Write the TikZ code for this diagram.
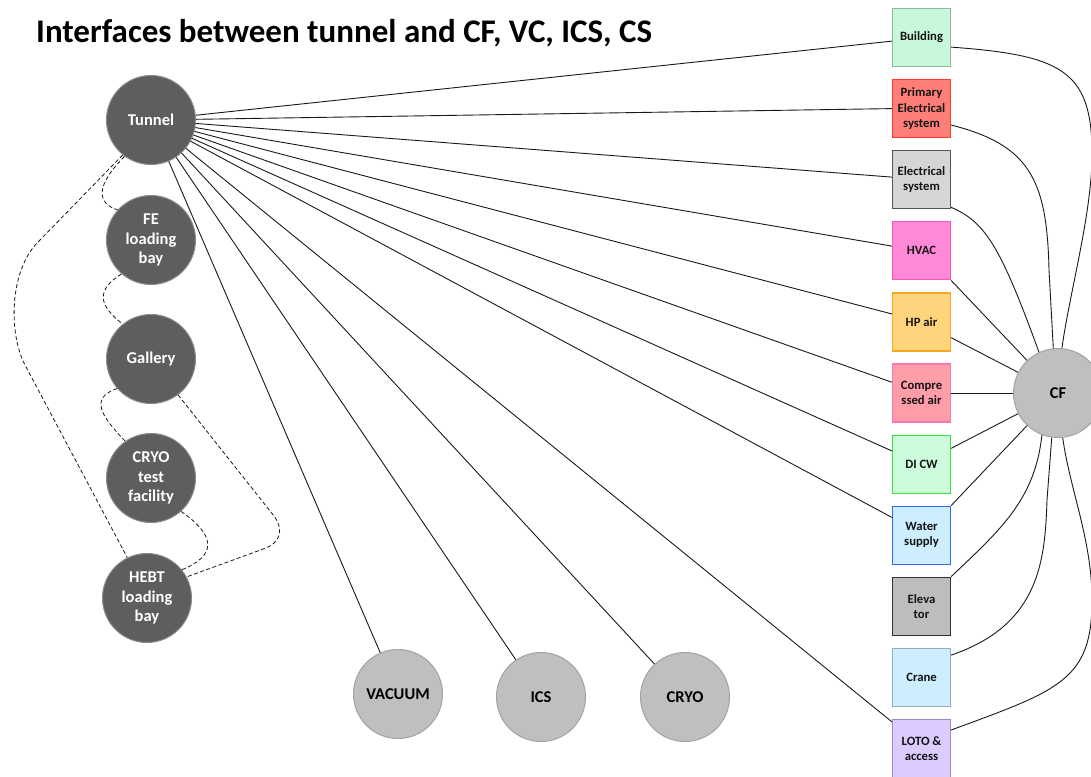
\documentclass[tikz,border=0pt]{standalone}
\usepackage{fontspec}
\setmainfont{Carlito}
\definecolor{darkgrey}{HTML}{5E5E5E}
\definecolor{rimdark}{HTML}{8A8A8A}
\definecolor{lightgrey}{HTML}{BFBFBF}
\definecolor{rimlight}{HTML}{A3A3A3}
% box fills and borders
\definecolor{bldF}{HTML}{C8F8DA}\definecolor{bldD}{HTML}{8DB89A}
\definecolor{priF}{HTML}{FF7F78}\definecolor{priD}{HTML}{FF3B30}
\definecolor{eleF}{HTML}{D6D6D6}\definecolor{eleD}{HTML}{555555}
\definecolor{hvacF}{HTML}{FF88D8}\definecolor{hvacD}{HTML}{FF55BB}
\definecolor{hpaF}{HTML}{FFD47A}\definecolor{hpaD}{HTML}{F5A623}
\definecolor{cmpF}{HTML}{FF9DA8}\definecolor{cmpD}{HTML}{FF74B0}
\definecolor{dicwF}{HTML}{CCFCDC}\definecolor{dicwD}{HTML}{3BE03B}
\definecolor{wsupF}{HTML}{CCEEFF}\definecolor{wsupD}{HTML}{3366FF}
\definecolor{elvF}{HTML}{BDBDBD}\definecolor{elvD}{HTML}{333333}
\definecolor{crnF}{HTML}{CCEEFF}\definecolor{crnD}{HTML}{8FAEC0}
\definecolor{lotoF}{HTML}{DCCBFF}\definecolor{lotoD}{HTML}{9A8CBE}
\begin{document}
\begin{tikzpicture}[x=1pt,y=-1pt,
  box/.style={draw, line width=1.2pt, minimum size=58pt, inner sep=1pt, align=center,
    font=\fontsize{12.7}{15.3}\selectfont\bfseries, text=black!92},
  hub/.style={circle, minimum size=89pt, inner sep=0pt, align=center, line width=1pt,
    font=\fontsize{16.5}{19.5}\selectfont\bfseries},
  dark/.style={hub, fill=darkgrey, draw=rimdark, text=white},
  light/.style={hub, fill=lightgrey, draw=rimlight, text=black},
  link/.style={line width=0.9pt, black!90},
  dlink/.style={line width=0.8pt, black!90, dash pattern=on 4pt off 2.5pt}
]
\useasboundingbox (0,0) rectangle (1091,776);
\clip (0,0) rectangle (1091,776);

% title
\node[anchor=base west, inner sep=0pt, font=\fontsize{33}{36}\selectfont\bfseries] (title) at (36,42)
  {Interfaces between tunnel and CF, VC, ICS, CS};

% site areas
\node[dark] (tun)  at (151,120) {Tunnel};
\node[dark] (fe)   at (151,240) {FE\\loading\\bay};
\node[dark] (gal)  at (151,359) {Gallery};
\node[dark] (cts)  at (151,478) {CRYO\\test\\facility};
\node[dark] (hebt) at (147,598) {HEBT\\loading\\bay};

% other systems
\node[light] (vac)  at (398,694) {VACUUM};
\node[light] (ics)  at (541,697) {ICS};
\node[light] (cryo) at (685,697) {CRYO};
\node[light] (cf)   at (1058,393) {CF};

% conventional facilities column
\node[box, fill=bldF, draw=bldD]   (bld)  at (921.5,37.5)  {Building};
\node[box, fill=priF, draw=priD]   (pri)  at (921.5,108.6) {Primary\\Electrical\\system};
\node[box, fill=eleF, draw=eleD]   (ele)  at (921.5,179.7) {Electrical\\system};
\node[box, fill=hvacF, draw=hvacD] (hvac) at (921.5,250.8) {HVAC};
\node[box, fill=hpaF, draw=hpaD]   (hpa)  at (921.5,321.9) {HP air};
\node[box, fill=cmpF, draw=cmpD]   (cmp)  at (921.5,393.0) {Compre\\ssed air};
\node[box, fill=dicwF, draw=dicwD] (dicw) at (921.5,464.1) {DI CW};
\node[box, fill=wsupF, draw=wsupD] (wsup) at (921.5,535.2) {Water\\supply};
\node[box, fill=elvF, draw=elvD]   (elv)  at (921.5,606.3) {Eleva\\tor};
\node[box, fill=crnF, draw=crnD]   (crn)  at (921.5,677.4) {Crane};
\node[box, fill=lotoF, draw=lotoD] (loto) at (921.5,748.5) {LOTO \&\\access};

% tunnel interfaces
\draw[link] (tun) -- (bld.187);
\draw[link] (tun) -- (pri.180);
\draw[link] (tun) -- (ele.175);
\draw[link] (tun) -- (hvac.171);
\draw[link] (tun) -- (hpa.165);
\draw[link] (tun) -- (cmp.160);
\draw[link] (tun) -- (dicw.156);
\draw[link] (tun) -- (wsup.149);
\draw[link] (tun) -- (loto.138);
\draw[link] (tun) -- (vac);
\draw[link] (tun) -- (ics);
\draw[link] (tun) -- (cryo);

% CF interfaces
\draw[link] (bld.-18) .. controls (1060,55) and (1091,70) .. (1092,150)
  .. controls (1093,210) and (1070,290) .. (cf.85);
\draw[link] (pri.-29) .. controls (1030,145) and (1047,180) .. (1049,270) -- (cf.96);
\draw[link] (ele.-43) .. controls (985,222) and (1000,245) .. (cf.115);
\draw[link] (hvac.south east) -- (cf);
\draw[link] (hpa.-28) -- (cf);
\draw[link] (cmp.east) -- (cf);
\draw[link] (dicw.28) -- (cf);
\draw[link] (wsup.north east) -- (cf);
\draw[link] (elv.north east) .. controls (1000,530) and (1035,500) .. (cf.249);
\draw[link] (crn.37) .. controls (1040,625) and (1045,560) .. (1047,500) -- (cf.262);
\draw[link] (loto.32) .. controls (1060,690) and (1092,680) .. (1092,600)
  .. controls (1092,540) and (1070,490) .. (cf.276);

% links between site areas
\draw[dlink] (tun.234) .. controls (96,185) and (96,203) .. (fe.138);
\draw[dlink] (fe.229) .. controls (96,290) and (98,305) .. (gal.129);
\draw[dlink] (gal.221) .. controls (90,398) and (100,415) .. (cts.125);
\draw[dlink] (cts.-48) .. controls (215,535) and (218,555) .. (hebt.39);
\draw[dlink] (gal.-53) -- (274,516) .. controls (283,528) and (282,541) .. (266,548) -- (hebt.28);
\draw[dlink] (tun.231) -- (40,240) .. controls (8,270) and (9,335) .. (25,365) -- (hebt.116);
\end{tikzpicture}
\end{document}
